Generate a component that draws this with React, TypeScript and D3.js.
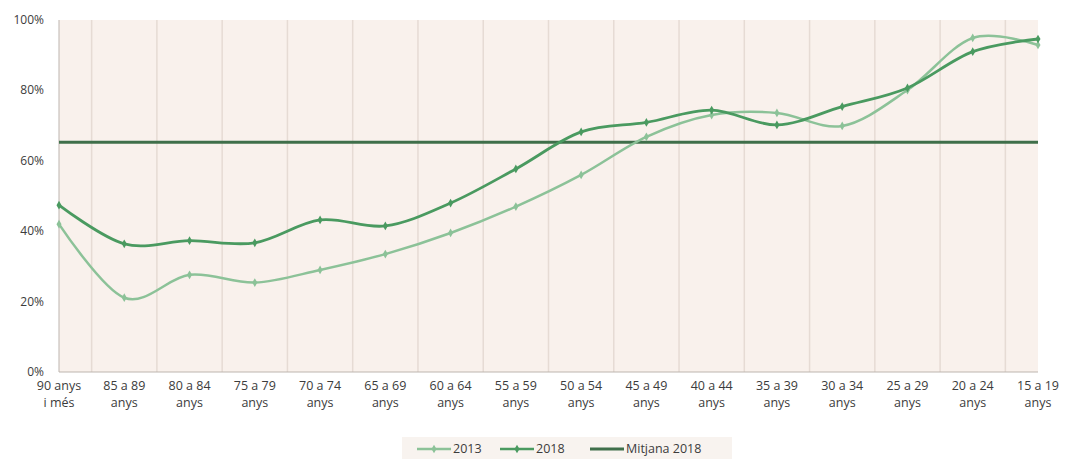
import React, { useEffect, useRef } from 'react';
import * as d3 from 'd3';

// age groups, oldest first (as in the source chart)
const categories = [
  ['90 anys', 'i més'], ['85 a 89', 'anys'], ['80 a 84', 'anys'], ['75 a 79', 'anys'],
  ['70 a 74', 'anys'], ['65 a 69', 'anys'], ['60 a 64', 'anys'], ['55 a 59', 'anys'],
  ['50 a 54', 'anys'], ['45 a 49', 'anys'], ['40 a 44', 'anys'], ['35 a 39', 'anys'],
  ['30 a 34', 'anys'], ['25 a 29', 'anys'], ['20 a 24', 'anys'], ['15 a 19', 'anys'],
];
const values2013 = [42, 21.1, 27.6, 25.4, 29, 33.5, 39.5, 47, 56, 66.8, 73, 73.6, 69.9, 80.1, 94.9, 92.9];
const values2018 = [47.4, 36.4, 37.3, 36.7, 43.2, 41.5, 48, 57.7, 68.2, 70.9, 74.4, 70.2, 75.4, 80.7, 91, 94.6];
const mitjana2018 = 65.3;
const yTicks = [0, 20, 40, 60, 80, 100];
const legendItems = ['2013', '2018', 'Mitjana 2018'];

const W = 1066, H = 459;
const C2013 = '#8cc298', C2018 = '#4a9a60', CMIT = '#3f6f4a';

export default function App() {
  const ref = useRef<SVGSVGElement>(null);

  useEffect(() => {
    const svg = d3.select(ref.current);
    svg.selectAll('*').remove();

    const left = 59, right = 1038, top = 20, bottom = 372;
    const font = "'Open Sans', sans-serif";

    const x = d3.scalePoint<number>()
      .domain(d3.range(categories.length))
      .range([left, right]);
    const y = d3.scaleLinear().domain([0, 100]).range([bottom, top]);
    const step = x.step();

    // plot background
    svg.append('rect')
      .attr('x', left).attr('y', top)
      .attr('width', right - left).attr('height', bottom - top)
      .attr('fill', '#f9f1ec');

    // vertical separators between categories
    svg.append('g').selectAll('line')
      .data(d3.range(categories.length - 1))
      .enter().append('line')
      .attr('x1', d => x(d)! + step / 2).attr('x2', d => x(d)! + step / 2)
      .attr('y1', top).attr('y2', bottom)
      .attr('stroke', '#e6dbd4').attr('stroke-width', 1.5);

    // axes lines
    svg.append('line').attr('x1', left).attr('x2', left).attr('y1', top).attr('y2', bottom)
      .attr('stroke', '#bdb5af').attr('stroke-width', 1);
    svg.append('line').attr('x1', left).attr('x2', right).attr('y1', bottom).attr('y2', bottom)
      .attr('stroke', '#bdb5af').attr('stroke-width', 1);

    // y tick labels
    svg.append('g').selectAll('text')
      .data(yTicks)
      .enter().append('text')
      .attr('x', 44).attr('y', d => y(d) + 4)
      .attr('text-anchor', 'end')
      .attr('font-family', font).attr('font-size', 12)
      .attr('fill', '#3c3c3c')
      .text(d => `${d}%`);

    // x labels
    const xl = svg.append('g').selectAll('text')
      .data(categories)
      .enter().append('text')
      .attr('text-anchor', 'middle')
      .attr('font-family', font).attr('font-size', 12.5)
      .attr('fill', '#3c3c3c');
    xl.append('tspan').attr('x', (d, i) => x(i)!).attr('y', 390).text(d => d[0]);
    xl.append('tspan').attr('x', (d, i) => x(i)!).attr('y', 407).text(d => d[1]);

    // mean line
    svg.append('line')
      .attr('x1', left).attr('x2', right)
      .attr('y1', y(mitjana2018)).attr('y2', y(mitjana2018))
      .attr('stroke', CMIT).attr('stroke-width', 3);

    const line = d3.line<number>()
      .x((d, i) => x(i)!)
      .y(d => y(d))
      .curve(d3.curveCardinal.tension(0));

    const series = [
      { vals: values2013, color: C2013, width: 2.5 },
      { vals: values2018, color: C2018, width: 2.8 },
    ];
    const diamond = d3.symbol().type(d3.symbolDiamond).size(22);
    series.forEach(s => {
      svg.append('path').datum(s.vals)
        .attr('fill', 'none').attr('stroke', s.color)
        .attr('stroke-width', s.width).attr('d', line);
      svg.append('g').selectAll('path')
        .data(s.vals)
        .enter().append('path')
        .attr('transform', (d, i) => `translate(${x(i)},${y(d)})`)
        .attr('d', diamond)
        .attr('fill', s.color);
    });

    // legend
    const lg = svg.append('g');
    lg.append('rect').attr('x', 402).attr('y', 437).attr('width', 330).attr('height', 22)
      .attr('fill', '#f8f3ef');
    const legendX = [417, 500, 590];
    const legendColors = [C2013, C2018, CMIT];
    legendItems.forEach((name, i) => {
      const lx = legendX[i];
      lg.append('line').attr('x1', lx).attr('x2', lx + 34).attr('y1', 449).attr('y2', 449)
        .attr('stroke', legendColors[i]).attr('stroke-width', i === 2 ? 3 : 2.5);
      if (i < 2) {
        lg.append('path').attr('transform', `translate(${lx + 17},449)`)
          .attr('d', diamond).attr('fill', legendColors[i]);
      }
      lg.append('text').attr('x', lx + 36).attr('y', 453)
        .attr('font-family', font).attr('font-size', 12.5).attr('fill', '#3c3c3c')
        .text(name);
    });
  }, []);

  return (
    <svg ref={ref} width={W} height={H}
      style={{ position: 'absolute', left: 0, top: 0, background: '#fff' }} />
  );
}
